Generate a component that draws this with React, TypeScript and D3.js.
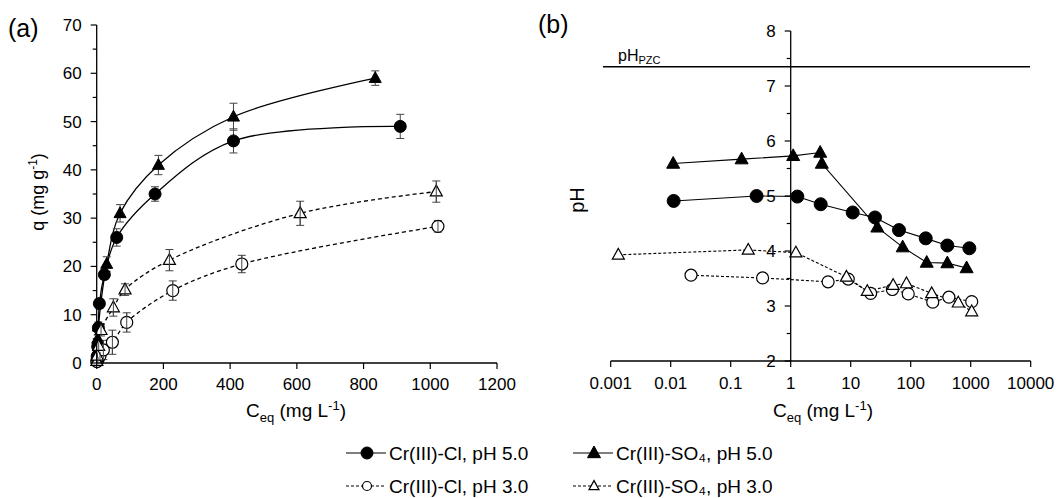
import React from 'react';
import * as d3 from 'd3';

// ---- panel (a): sorption isotherms ----
const clHighC = [0.5, 1.5, 3, 5, 8, 23, 60, 175, 410, 910];
const clHighQ = [0.5, 1.3, 3.4, 7.3, 12.3, 18.3, 26, 35, 46, 49];
const clHighErr = [0.3, 0.4, 0.6, 0.8, 1, 1, 1.8, 1.5, 2.5, 2.5];

const soHighC = [0.5, 1.5, 3, 5, 30, 70, 185, 410, 835];
const soHighQ = [0.8, 2.5, 5, 7.5, 20.5, 31, 41, 51, 59];
const soHighErr = [0.3, 0.5, 0.8, 1, 1.5, 1.8, 2, 2.8, 1.5];

const clLowC = [1, 4, 10, 20, 47, 90, 228, 435, 1023];
const clLowQ = [0.3, 0.8, 1.5, 2.7, 4.3, 8.4, 15, 20.5, 28.3];
const clLowErr = [0.3, 0.5, 0.8, 2, 2.5, 2, 2, 1.8, 1.2];

const soLowC = [0.5, 2, 6, 13, 50, 85, 218, 610, 1018];
const soLowQ = [0.4, 1.5, 3.5, 6.8, 11.5, 15.2, 21.3, 31, 35.5];
const soLowErr = [0.3, 0.5, 0.8, 1.2, 1.8, 1.2, 2.2, 2.5, 2.2];

const qTicks = [0, 10, 20, 30, 40, 50, 60, 70];
const cTicks = [0, 200, 400, 600, 800, 1000, 1200];

// ---- panel (b): equilibrium pH ----
const clHighPhC = [0.0112, 0.27, 1.29, 3.16, 10.8, 25.4, 63.8, 178, 408, 950];
const clHighPh = [4.91, 5.0, 4.99, 4.85, 4.7, 4.61, 4.38, 4.23, 4.1, 4.05];

const soHighPhC = [0.011, 0.152, 1.1, 3.1, 3.3, 27.8, 73.5, 185, 408, 855];
const soHighPh = [5.59, 5.67, 5.73, 5.79, 5.59, 4.43, 4.07, 3.79, 3.78, 3.69];

const clLowPhC = [0.0218, 0.34, 4.2, 9.1, 21.5, 49.5, 91, 233, 433, 1040];
const clLowPh = [3.56, 3.51, 3.44, 3.49, 3.23, 3.3, 3.22, 3.07, 3.16, 3.08];

const soLowPhC = [0.00134, 0.196, 1.22, 8.5, 18.9, 51, 85, 224, 620, 1040];
const soLowPh = [3.93, 4.02, 3.97, 3.53, 3.27, 3.38, 3.41, 3.23, 3.06, 2.9];

const pHpzc = 7.35;
const phTicks = [2, 3, 4, 5, 6, 7, 8];
const logTicks = [0.001, 0.01, 0.1, 1, 10, 100, 1000, 10000];
const logLabels = ['0.001', '0.01', '0.1', '1', '10', '100', '1000', '10000'];

const legendLabels = ['Cr(III)-Cl, pH 5.0', 'Cr(III)-SO\u2084, pH 5.0', 'Cr(III)-Cl, pH 3.0', 'Cr(III)-SO\u2084, pH 3.0'];

const FONT = 'Liberation Sans, Arial, sans-serif';

type Shape = 'circle' | 'triangle';

const Marker = ({ x, y, shape, filled, size }: { x: number; y: number; shape: Shape; filled: boolean; size: number }) => {
  const fill = filled ? '#000' : '#fff';
  if (shape === 'circle') {
    return <circle cx={x} cy={y} r={size / 2} fill={fill} stroke="#000" strokeWidth={filled ? 1 : 1.2} />;
  }
  const h = size * 0.9;
  const w = size / 2;
  const pts = `${x},${y - h * 0.6} ${x - w},${y + h * 0.4} ${x + w},${y + h * 0.4}`;
  return <polygon points={pts} fill={fill} stroke="#000" strokeWidth={filled ? 1 : 1.2} />;
};

// C_eq (mg L^-1) axis title
const CeqTitle = ({ x, y }: { x: number; y: number }) => (
  <text x={x} y={y} textAnchor="middle" fontSize={19} fill="#000">
    C<tspan fontSize={13} dy={5}>eq</tspan><tspan dy={-5}> (mg L</tspan><tspan fontSize={13} dy={-7}>-1</tspan><tspan dy={7}>)</tspan>
  </text>
);

export default function App() {
  // panel a scales
  const xa = d3.scaleLinear().domain([0, 1200]).range([96.7, 497]);
  const ya = d3.scaleLinear().domain([0, 70]).range([363, 25]);
  // panel b scales
  const xb = d3.scaleLog().domain([0.001, 10000]).range([610.7, 1030.7]);
  const yb = d3.scaleLinear().domain([2, 8]).range([361, 31]);

  const curve = d3.line<[number, number]>().x(d => xa(d[0])).y(d => ya(d[1])).curve(d3.curveCatmullRom.alpha(0.5));
  const segs = d3.line<[number, number]>().x(d => xb(d[0])).y(d => yb(d[1]));

  const seriesA = [
    { c: clHighC, q: clHighQ, e: clHighErr, shape: 'circle' as Shape, filled: true, dash: '' },
    { c: soHighC, q: soHighQ, e: soHighErr, shape: 'triangle' as Shape, filled: true, dash: '' },
    { c: clLowC, q: clLowQ, e: clLowErr, shape: 'circle' as Shape, filled: false, dash: '4,3' },
    { c: soLowC, q: soLowQ, e: soLowErr, shape: 'triangle' as Shape, filled: false, dash: '4,3' },
  ];
  const seriesB = [
    { c: clHighPhC, p: clHighPh, shape: 'circle' as Shape, filled: true, dash: '' },
    { c: soHighPhC, p: soHighPh, shape: 'triangle' as Shape, filled: true, dash: '' },
    { c: clLowPhC, p: clLowPh, shape: 'circle' as Shape, filled: false, dash: '3,2' },
    { c: soLowPhC, p: soLowPh, shape: 'triangle' as Shape, filled: false, dash: '3,2' },
  ];

  const qMinor = d3.range(0, 70, 5).filter(v => v % 10 !== 0);
  const phMinor = d3.range(2.5, 8, 1);

  const legendPos = [
    { x: 346, y: 453, shape: 'circle' as Shape, filled: true, dash: '', size: 12 },
    { x: 573, y: 453, shape: 'triangle' as Shape, filled: true, dash: '', size: 13 },
    { x: 346, y: 486, shape: 'circle' as Shape, filled: false, dash: '3,2', size: 9 },
    { x: 573, y: 486, shape: 'triangle' as Shape, filled: false, dash: '3,2', size: 10 },
  ];

  return (
    <svg width={1059} height={498} style={{ position: 'absolute', left: 0, top: 0, background: '#fff' }} fontFamily={FONT}>
      <rect width={1059} height={498} fill="#fff" />

      {/* ===== panel (a) ===== */}
      <text x={8} y={37} fontSize={25} fill="#000">(a)</text>
      {/* curves */}
      {seriesA.map((s, i) => (
        <path key={'ca' + i} d={curve(s.c.map((c, j) => [c, s.q[j]] as [number, number])) || ''}
          fill="none" stroke="#000" strokeWidth={1.3} strokeDasharray={s.dash} />
      ))}
      {/* error bars */}
      {seriesA.map((s, i) => s.c.map((c, j) => {
        const x = xa(c);
        const y1 = ya(s.q[j] - s.e[j]);
        const y2 = ya(s.q[j] + s.e[j]);
        return (
          <g key={'ea' + i + '-' + j} stroke="#444" strokeWidth={1}>
            <line x1={x} x2={x} y1={y1} y2={y2} />
            <line x1={x - 4} x2={x + 4} y1={y1} y2={y1} />
            <line x1={x - 4} x2={x + 4} y1={y2} y2={y2} />
          </g>
        );
      }))}
      {/* markers */}
      {seriesA.map((s, i) => s.c.map((c, j) => (
        <Marker key={'ma' + i + '-' + j} x={xa(c)} y={ya(s.q[j])} shape={s.shape} filled={s.filled} size={12} />
      )))}
      {/* error bar centre strokes on open markers */}
      {seriesA.filter(s => !s.filled).map((s, i) => s.c.map((c, j) => (
        <line key={'eo' + i + '-' + j} x1={xa(c)} x2={xa(c)} y1={ya(s.q[j] - s.e[j])} y2={ya(s.q[j] + s.e[j])} stroke="#444" strokeWidth={1} />
      )))}
      {/* axes */}
      <line x1={xa(0)} x2={xa(0)} y1={ya(0)} y2={ya(70)} stroke="#000" strokeWidth={1.3} />
      <line x1={xa(0)} x2={xa(1200)} y1={ya(0)} y2={ya(0)} stroke="#000" strokeWidth={1.3} />
      {qTicks.map(t => (
        <g key={'qt' + t}>
          <line x1={xa(0) - 6} x2={xa(0)} y1={ya(t)} y2={ya(t)} stroke="#000" strokeWidth={1.2} />
          <text x={xa(0) - 15} y={ya(t)} dy="0.35em" textAnchor="end" fontSize={17} fill="#000">{t}</text>
        </g>
      ))}
      {qMinor.map(t => (
        <line key={'qm' + t} x1={xa(0) - 4} x2={xa(0)} y1={ya(t)} y2={ya(t)} stroke="#000" strokeWidth={1.2} />
      ))}
      {cTicks.map(t => (
        <g key={'ct' + t}>
          <line x1={xa(t)} x2={xa(t)} y1={ya(0)} y2={ya(0)} stroke="#000" strokeWidth={1.2} />
          <line x1={xa(t)} x2={xa(t)} y1={ya(0)} y2={ya(0) + 6} stroke="#000" strokeWidth={1.2} />
          <text x={xa(t)} y={ya(0) + 27} textAnchor="middle" fontSize={17} fill="#000">{t}</text>
        </g>
      ))}
      <CeqTitle x={296} y={417} />
      <text transform="translate(44,192) rotate(-90)" textAnchor="middle" fontSize={18} fill="#000">
        q (mg g<tspan fontSize={12} dy={-7}>-1</tspan><tspan dy={7}>)</tspan>
      </text>

      {/* ===== panel (b) ===== */}
      <text x={538} y={33} fontSize={25} fill="#000">(b)</text>
      <line x1={603} x2={1030} y1={yb(pHpzc)} y2={yb(pHpzc)} stroke="#000" strokeWidth={1.3} />
      <text x={618} y={yb(pHpzc) - 6} fontSize={16} fill="#000">
        pH<tspan fontSize={11} dy={3}>PZC</tspan>
      </text>
      {seriesB.map((s, i) => (
        <path key={'lb' + i} d={segs(s.c.map((c, j) => [c, s.p[j]] as [number, number])) || ''}
          fill="none" stroke="#000" strokeWidth={1.1} strokeDasharray={s.dash} />
      ))}
      {seriesB.map((s, i) => s.c.map((c, j) => (
        <Marker key={'mb' + i + '-' + j} x={xb(c)} y={yb(s.p[j])} shape={s.shape} filled={s.filled} size={s.filled ? 13 : 12} />
      )))}
      {/* axes */}
      <line x1={xb(1)} x2={xb(1)} y1={yb(2)} y2={yb(8)} stroke="#000" strokeWidth={1.3} />
      <line x1={xb(0.001)} x2={xb(10000)} y1={yb(2)} y2={yb(2)} stroke="#000" strokeWidth={1.3} />
      {phTicks.map(t => (
        <g key={'pt' + t}>
          <line x1={xb(1) - 6} x2={xb(1)} y1={yb(t)} y2={yb(t)} stroke="#000" strokeWidth={1.2} />
          <text x={xb(1) - 15} y={yb(t)} dy="0.35em" textAnchor="end" fontSize={17} fill="#000">{t}</text>
        </g>
      ))}
      {phMinor.map(t => (
        <line key={'pm' + t} x1={xb(1) - 4} x2={xb(1)} y1={yb(t)} y2={yb(t)} stroke="#000" strokeWidth={1.2} />
      ))}
      {logTicks.map((t, i) => (
        <g key={'lt' + i}>
          <line x1={xb(t)} x2={xb(t)} y1={yb(2)} y2={yb(2) + 6} stroke="#000" strokeWidth={1.2} />
          <text x={xb(t)} y={yb(2) + 28} textAnchor="middle" fontSize={17} fill="#000">{logLabels[i]}</text>
        </g>
      ))}
      <CeqTitle x={823} y={417} />
      <text transform="translate(584,200) rotate(-90)" textAnchor="middle" fontSize={20} fill="#000">pH</text>

      {/* ===== legend ===== */}
      {legendPos.map((l, i) => (
        <g key={'lg' + i}>
          <line x1={l.x} x2={l.x + 40} y1={l.y} y2={l.y} stroke="#000" strokeWidth={1.2} strokeDasharray={l.dash} />
          <Marker x={l.x + 21} y={l.y} shape={l.shape} filled={l.filled} size={l.size} />
          <text x={l.x + 43} y={l.y} dy="0.35em" fontSize={19} fill="#000">{legendLabels[i]}</text>
        </g>
      ))}
    </svg>
  );
}
